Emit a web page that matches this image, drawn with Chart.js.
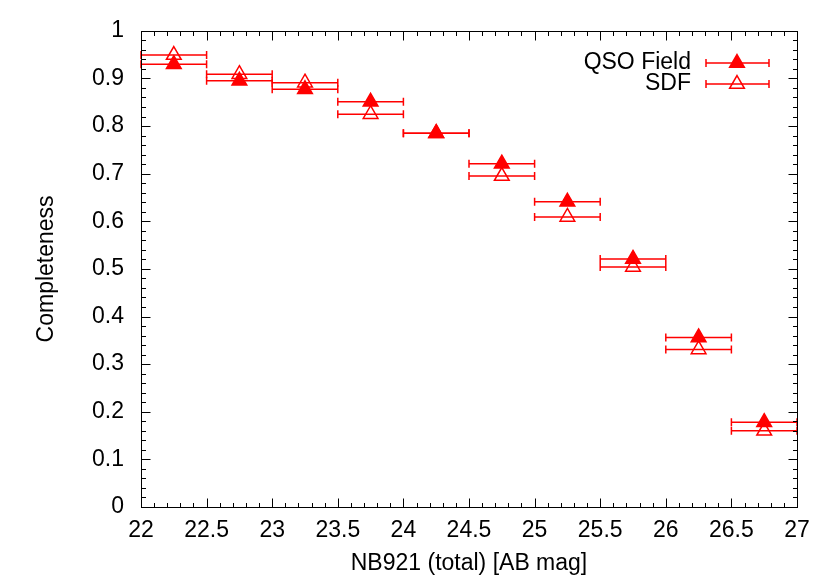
<!DOCTYPE html>
<html>
<head>
<meta charset="utf-8">
<script src="https://cdn.jsdelivr.net/npm/chart.js@4.4.1/dist/chart.umd.min.js"></script>
<style>
  html, body { margin: 0; padding: 0; background: #fff; }
  #wrap { width: 830px; height: 581px; position: relative; }
</style>
</head>
<body>
<div id="wrap"><canvas id="c" width="830" height="581"></canvas></div>
<script>
// ---- Data ----
const magCenters   = [22.25, 22.75, 23.25, 23.75, 24.25, 24.75, 25.25, 25.75, 26.25, 26.75];
const binHalfWidth = [0.25, 0.25, 0.25, 0.25, 0.25, 0.25, 0.25, 0.25, 0.25, 0.25];
const qsoField     = [0.930, 0.895, 0.877, 0.851, 0.785, 0.721, 0.641, 0.521, 0.356, 0.178];
const sdf          = [0.949, 0.909, 0.891, 0.825, 0.785, 0.695, 0.609, 0.504, 0.331, 0.160];
const seriesNames  = ["QSO Field", "SDF"];
const xTitle = "NB921 (total) [AB mag]";
const yTitle = "Completeness";

const RED = "#ff0000";
const FONT = "'Liberation Sans', Arial, Helvetica, sans-serif";
const FS = 23;
const R_PT = 8.5;

function toPoints(vals) {
  return magCenters.map((m, i) => ({ x: m, y: vals[i], xerr: binHalfWidth[i] }));
}
function fmt(v) { return String(parseFloat(Number(v).toFixed(2))); }

const errorBarPlugin = {
  id: 'errorBars',
  beforeDatasetsDraw(chart) {
    const ctx = chart.ctx, xs = chart.scales.x, ys = chart.scales.y;
    ctx.save();
    ctx.strokeStyle = RED;
    ctx.lineWidth = 1.5;
    chart.data.datasets.forEach(ds => {
      ds.data.forEach(p => {
        const x1 = xs.getPixelForValue(p.x - p.xerr);
        const x2 = xs.getPixelForValue(p.x + p.xerr);
        const y = ys.getPixelForValue(p.y);
        ctx.beginPath();
        ctx.moveTo(x1, y); ctx.lineTo(x2, y);
        ctx.moveTo(x1, y - 4); ctx.lineTo(x1, y + 4);
        ctx.moveTo(x2, y - 4); ctx.lineTo(x2, y + 4);
        ctx.stroke();
      });
    });
    ctx.restore();
  }
};

const framePlugin = {
  id: 'frame',
  afterDatasetsDraw(chart) {
    const ctx = chart.ctx, a = chart.chartArea, xs = chart.scales.x, ys = chart.scales.y;
    ctx.save();
    ctx.strokeStyle = '#000';
    ctx.lineWidth = 1;
    const L = Math.round(a.left) + 0.5, R = Math.round(a.right) + 0.5;
    const T = Math.round(a.top) + 0.5, B = Math.round(a.bottom) + 0.5;
    ctx.beginPath();
    for (let k = 0; k <= 50; k++) {
      const v = 22 + k * 0.1;
      const px = Math.round(xs.getPixelForValue(v)) + 0.5;
      const len = (k % 5 === 0) ? 9 : 4.5;
      ctx.moveTo(px, B); ctx.lineTo(px, B - len);
      ctx.moveTo(px, T); ctx.lineTo(px, T + len);
    }
    for (let k = 0; k <= 50; k++) {
      const v = k * 0.02;
      const py = Math.round(ys.getPixelForValue(v)) + 0.5;
      const len = (k % 5 === 0) ? 9 : 4.5;
      ctx.moveTo(L, py); ctx.lineTo(L + len, py);
      ctx.moveTo(R, py); ctx.lineTo(R - len, py);
    }
    ctx.stroke();
    ctx.strokeRect(L, T, R - L, B - T);

    // legend
    const entries = [
      { name: seriesNames[0], y: 63, fill: true },
      { name: seriesNames[1], y: 84, fill: false }
    ];
    ctx.font = FS + 'px ' + FONT;
    ctx.textAlign = 'right';
    ctx.textBaseline = 'middle';
    entries.forEach(e => {
      ctx.fillStyle = '#000';
      ctx.fillText(e.name, 691, e.y);
      ctx.strokeStyle = RED;
      ctx.lineWidth = 1.5;
      ctx.beginPath();
      ctx.moveTo(706, e.y); ctx.lineTo(769, e.y);
      ctx.moveTo(706, e.y - 4); ctx.lineTo(706, e.y + 4);
      ctx.moveTo(769, e.y - 4); ctx.lineTo(769, e.y + 4);
      ctx.stroke();
      ctx.fillStyle = RED;
      ctx.beginPath();
      ctx.moveTo(737, e.y - R_PT);
      ctx.lineTo(737 + R_PT * Math.sin(2 * Math.PI / 3), e.y + R_PT / 2);
      ctx.lineTo(737 - R_PT * Math.sin(2 * Math.PI / 3), e.y + R_PT / 2);
      ctx.closePath();
      if (e.fill) ctx.fill();
      ctx.stroke();
    });
    ctx.restore();
  }
};

new Chart(document.getElementById('c'), {
  type: 'scatter',
  data: {
    datasets: [
      {
        label: seriesNames[0],
        data: toPoints(qsoField),
        pointStyle: 'triangle',
        pointRadius: R_PT,
        pointBackgroundColor: RED,
        pointBorderColor: RED,
        pointBorderWidth: 1.5,
        showLine: false
      },
      {
        label: seriesNames[1],
        data: toPoints(sdf),
        pointStyle: 'triangle',
        pointRadius: R_PT,
        pointBackgroundColor: 'rgba(0,0,0,0)',
        pointBorderColor: RED,
        pointBorderWidth: 1.5,
        showLine: false
      }
    ]
  },
  options: {
    responsive: false,
    animation: false,
    events: [],
    layout: { padding: { top: 27, right: 33, bottom: 0, left: 0 } },
    plugins: { legend: { display: false }, tooltip: { enabled: false } },
    scales: {
      x: {
        type: 'linear', min: 22, max: 27,
        grid: { display: false, drawTicks: false },
        border: { display: false },
        ticks: { stepSize: 0.5, autoSkip: false, maxRotation: 0, padding: 10,
                 color: '#000', font: { family: FONT, size: FS }, callback: fmt },
        title: { display: true, text: xTitle, color: '#000',
                 font: { family: FONT, size: FS }, padding: { top: 0, bottom: 4 } },
        afterFit(s) { s.height = 74; }
      },
      y: {
        type: 'linear', min: 0, max: 1,
        grid: { display: false, drawTicks: false },
        border: { display: false },
        ticks: { stepSize: 0.1, autoSkip: false, padding: 17,
                 color: '#000', font: { family: FONT, size: FS }, callback: fmt },
        title: { display: true, text: yTitle, color: '#000',
                 font: { family: FONT, size: FS }, padding: { top: 33, bottom: 0 } },
        afterFit(s) { s.width = 141; }
      }
    }
  },
  plugins: [errorBarPlugin, framePlugin]
});
</script>
</body>
</html>
